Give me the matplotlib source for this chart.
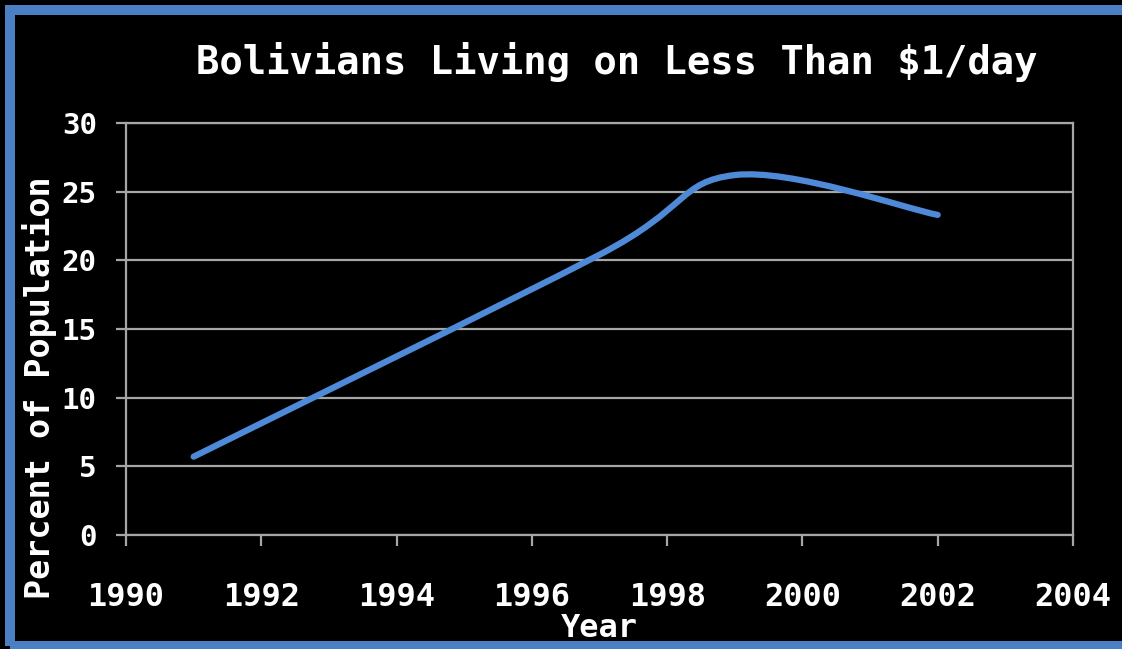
import numpy as np
import matplotlib
matplotlib.use('Agg')
import matplotlib.pyplot as plt
from matplotlib.path import Path
from matplotlib.patches import PathPatch, Rectangle

# Survey years and share of population under $1/day
years = [1991, 1997, 1999, 2002]
percent = [5.7, 20.4, 26.2, 23.3]

x_ticks = [1990, 1992, 1994, 1996, 1998, 2000, 2002, 2004]
y_ticks = [0, 5, 10, 15, 20, 25, 30]

line_color = '#4f8ad9'
grid_color = '#a6a6a6'
border_color = '#4a7fc4'
font = 'DejaVu Sans Mono'

plt.rcParams['font.family'] = [font]
plt.rcParams['font.weight'] = 'bold'

fig = plt.figure(figsize=(11.22, 6.49), dpi=100, facecolor='black')
ax = fig.add_axes([0.1123, 0.1757, 0.844, 0.635], facecolor='black')

# Smoothed line like a spreadsheet "smooth line" scatter: cubic Bezier segments
pts = np.column_stack([years, percent]).astype(float)
n = len(pts)
verts = [pts[0]]
codes = [Path.MOVETO]
for i in range(n - 1):
    p0 = pts[i - 1] if i > 0 else pts[i]
    p1 = pts[i]
    p2 = pts[i + 1]
    p3 = pts[i + 2] if i + 2 < n else pts[i + 1]
    c1 = p1 + (p2 - p0) / 6.0
    c2 = p2 - (p3 - p1) / 6.0
    verts += [c1, c2, p2]
    codes += [Path.CURVE4] * 3
curve = PathPatch(Path(verts, codes), facecolor='none', edgecolor=line_color,
                  lw=4.5, capstyle='round', zorder=3)
ax.add_patch(curve)

ax.set_xlim(1990, 2004)
ax.set_ylim(0, 30)
ax.set_xticks(x_ticks)
ax.set_yticks(y_ticks)
ax.grid(axis='y', color=grid_color, lw=1.6)
ax.set_axisbelow(True)

for side in ['left', 'bottom', 'right', 'top']:
    ax.spines[side].set_color(grid_color)
    ax.spines[side].set_linewidth(1.6)

ax.tick_params(axis='x', colors=grid_color, length=8, width=1.6, pad=26,
               labelcolor='white', labelsize=23)
ax.tick_params(axis='y', colors=grid_color, length=7, width=1.6, pad=14,
               labelcolor='white', labelsize=21)
for lab in ax.get_xticklabels() + ax.get_yticklabels():
    lab.set_fontweight('bold')

ax.set_xlabel('Year', color='white', fontsize=23, fontweight='bold')
ax.xaxis.set_label_coords(0.5, -0.19)
ax.set_ylabel('Percent of Population', color='white', fontsize=24,
              fontweight='bold')
ax.yaxis.set_label_coords(-0.073, 0.357)

fig.text(0.55, 0.905, 'Bolivians Living on Less Than $1/day', color='white',
         fontsize=28, fontweight='bold', ha='center', va='center')

# Blue frame around the whole chart (cut off at the right edge)
frame = Rectangle((10 / 1122, 3 / 649), 1.2, 1 - 13 / 649, transform=fig.transFigure,
                  fill=False, edgecolor=border_color, lw=7.2, clip_on=False)
fig.add_artist(frame)

fig.savefig('out.png', dpi=100, facecolor='black')
